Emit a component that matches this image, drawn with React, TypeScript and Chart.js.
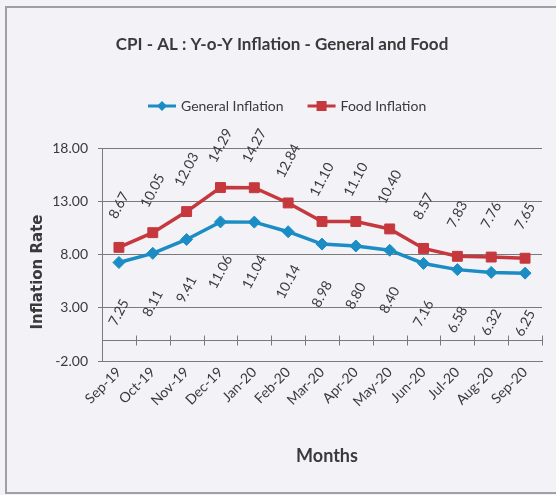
import React, { useEffect, useRef } from "react";
import { Chart, registerables } from "chart.js";

Chart.register(...registerables);

const months = ["Sep-19","Oct-19","Nov-19","Dec-19","Jan-20","Feb-20","Mar-20","Apr-20","May-20","Jun-20","Jul-20","Aug-20","Sep-20"];
const generalInflation = [7.25, 8.11, 9.41, 11.06, 11.04, 10.14, 8.98, 8.8, 8.4, 7.16, 6.58, 6.32, 6.25];
const foodInflation = [8.67, 10.05, 12.03, 14.29, 14.27, 12.84, 11.1, 11.1, 10.4, 8.57, 7.83, 7.76, 7.65];
const yMin = -2;
const yMax = 18;
const yStep = 5;
const chartTitle = "CPI - AL : Y-o-Y Inflation - General and Food";
const yTitle = "Inflation Rate";
const xTitle = "Months";

const BLUE = "#1b8cc4";
const RED = "#c5383d";
const TEXT = "#3a3a3a";
const GRID = "#7a7a7a";
const FAM = "Lato, 'Open Sans', sans-serif";

const decorPlugin = {
  id: "decor",
  afterDraw(chart: any) {
    const ctx = chart.ctx;
    const area = chart.chartArea;
    const xs = chart.scales.x;
    const ys = chart.scales.y;
    ctx.save();
    // zero line with tick marks between categories
    const y0 = Math.round(ys.getPixelForValue(0)) + 0.5;
    const step = xs.getPixelForValue(1) - xs.getPixelForValue(0);
    ctx.strokeStyle = GRID;
    ctx.lineWidth = 1;
    ctx.beginPath();
    ctx.moveTo(area.left, y0);
    ctx.lineTo(area.right, y0);
    ctx.stroke();
    ctx.beginPath();
    for (let i = 0; i < months.length; i++) {
      const bx = Math.round(xs.getPixelForValue(i) + step / 2) + 0.5;
      ctx.moveTo(bx, y0 - 5);
      ctx.lineTo(bx, y0 + 5);
    }
    ctx.stroke();

    // title
    ctx.fillStyle = TEXT;
    ctx.textAlign = "center";
    ctx.textBaseline = "middle";
    ctx.font = "bold 17px " + FAM;
    ctx.fillText(chartTitle, 282, 45);

    // y title
    ctx.save();
    ctx.translate(38, 272);
    ctx.rotate(-Math.PI / 2);
    ctx.font = "bold 15px 'DejaVu Sans', sans-serif";
    ctx.fillStyle = TEXT;
    ctx.fillText(yTitle, 0, 0);
    ctx.restore();

    // x title
    ctx.font = "bold 18px " + FAM;
    ctx.fillText(xTitle, 327, 456);

    // legend
    ctx.font = "14px " + FAM;
    ctx.textAlign = "left";
    const items = [
      { label: chart.data.datasets[0].label, color: BLUE, style: "diamond" },
      { label: chart.data.datasets[1].label, color: RED, style: "square" },
    ];
    let lx = 148;
    const ly = 106;
    items.forEach((it) => {
      ctx.strokeStyle = it.color;
      ctx.lineWidth = 3;
      ctx.beginPath();
      ctx.moveTo(lx, ly);
      ctx.lineTo(lx + 28, ly);
      ctx.stroke();
      ctx.fillStyle = it.color;
      const cx = lx + 14;
      if (it.style === "diamond") {
        ctx.beginPath();
        ctx.moveTo(cx, ly - 5);
        ctx.lineTo(cx + 5, ly);
        ctx.lineTo(cx, ly + 5);
        ctx.lineTo(cx - 5, ly);
        ctx.closePath();
        ctx.fill();
      } else {
        ctx.fillRect(cx - 5, ly - 5, 10, 10);
      }
      ctx.fillStyle = TEXT;
      ctx.fillText(it.label, lx + 33, ly);
      lx += 33 + ctx.measureText(it.label).width + 24;
    });

    // data labels
    ctx.font = "14px " + FAM;
    ctx.textAlign = "center";
    ctx.textBaseline = "middle";
    ctx.fillStyle = TEXT;
    const ang = (-62 * Math.PI) / 180;
    chart.data.datasets.forEach((ds: any, di: number) => {
      const meta = chart.getDatasetMeta(di);
      meta.data.forEach((pt: any, i: number) => {
        const txt = Number(ds.data[i]).toFixed(2);
        const off = di === 1 ? -42 : 50;
        ctx.save();
        ctx.translate(pt.x, pt.y + off);
        ctx.rotate(ang);
        ctx.fillText(txt, 0, 0);
        ctx.restore();
      });
    });
    ctx.restore();
  },
};

export default function App() {
  const ref = useRef<HTMLCanvasElement>(null);
  useEffect(() => {
    if (!ref.current) return;
    const chart = new Chart(ref.current, {
      type: "line",
      data: {
        labels: months,
        datasets: [
          {
            label: "General Inflation",
            data: generalInflation,
            borderColor: BLUE,
            backgroundColor: BLUE,
            borderWidth: 3.5,
            pointStyle: "rectRot",
            pointRadius: 6,
            pointBorderWidth: 1,
            tension: 0,
          },
          {
            label: "Food Inflation",
            data: foodInflation,
            borderColor: RED,
            backgroundColor: RED,
            borderWidth: 3.5,
            pointStyle: "rect",
            pointRadius: 7,
            pointBorderWidth: 1,
            tension: 0,
          },
        ],
      },
      plugins: [decorPlugin],
      options: {
        responsive: false,
        animation: false,
        layout: { padding: { top: 148, right: 14, left: 0, bottom: 0 } },
        plugins: {
          legend: { display: false },
          title: { display: false },
          tooltip: { enabled: false },
        },
        scales: {
          x: {
            offset: true,
            grid: { display: false, drawTicks: false },
            border: { display: true, color: GRID, width: 1 },
            ticks: {
              color: TEXT,
              font: { family: FAM, size: 14 },
              maxRotation: 45,
              minRotation: 45,
              padding: 3,
              autoSkip: false,
            },
            afterFit: (s: any) => {
              s.height = 134;
            },
          },
          y: {
            min: yMin,
            max: yMax,
            ticks: {
              stepSize: yStep,
              color: TEXT,
              font: { family: FAM, size: 14 },
              callback: (v: any) => Number(v).toFixed(2),
              padding: 10,
            },
            grid: { color: GRID, lineWidth: 1, tickLength: 4 },
            border: { display: true, color: GRID, width: 1 },
            afterFit: (s: any) => {
              s.width = 102;
            },
          },
        },
      },
    });
    return () => chart.destroy();
  }, []);
  return (
    <div style={{ position: "absolute", left: 0, top: 0, width: 556, height: 495, background: "#f3f2f7", overflow: "hidden" }}>
      <div style={{ position: "absolute", left: 5, top: 6, width: 600, height: 484, border: "2px solid #a0a0a4" }} />
      <canvas ref={ref} width={556} height={495} style={{ position: "absolute", left: 0, top: 0 }} />
    </div>
  );
}
